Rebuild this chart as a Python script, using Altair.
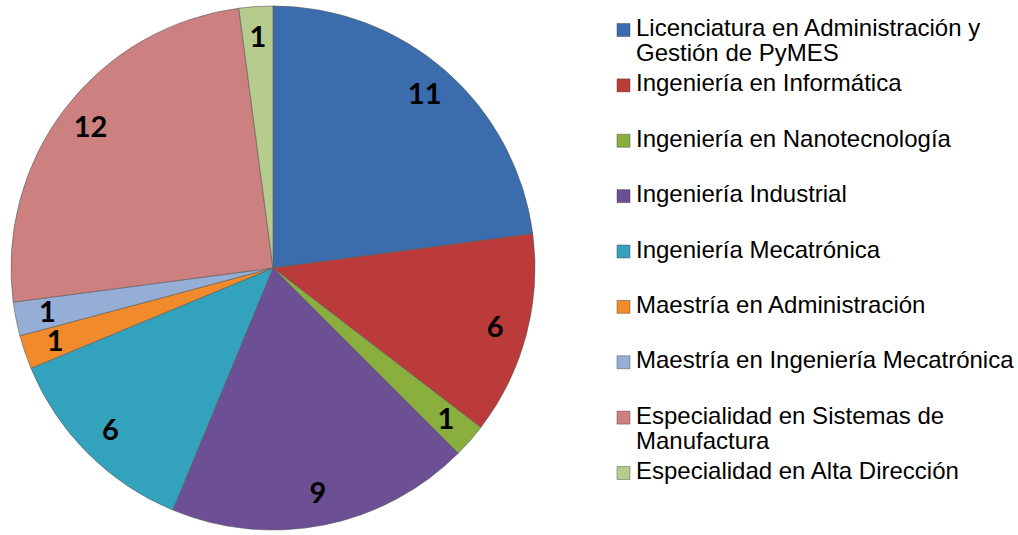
import altair as alt
import pandas as pd

categories = [
    "Licenciatura en Administración y Gestión de PyMES",
    "Ingeniería en Informática",
    "Ingeniería en Nanotecnología",
    "Ingeniería Industrial",
    "Ingeniería Mecatrónica",
    "Maestría en Administración",
    "Maestría en Ingeniería Mecatrónica",
    "Especialidad en Sistemas de Manufactura",
    "Especialidad en Alta Dirección",
]
legend_labels = [
    "Licenciatura en Administración y\nGestión de PyMES",
    "Ingeniería en Informática",
    "Ingeniería en Nanotecnología",
    "Ingeniería Industrial",
    "Ingeniería Mecatrónica",
    "Maestría en Administración",
    "Maestría en Ingeniería Mecatrónica",
    "Especialidad en Sistemas de\nManufactura",
    "Especialidad en Alta Dirección",
]
values = [11, 6, 1, 9, 6, 1, 1, 12, 1]
colors = ["#3b6cad", "#bb3b3a", "#8aaf3f", "#6c4f94", "#33a2bd",
          "#f08a2a", "#95aed6", "#cc8080", "#b6cc8c"]

df = pd.DataFrame({"categoria": categories, "valor": values,
                   "etiqueta": legend_labels,
                   "orden": list(range(len(categories)))})

color = alt.Color("categoria:N",
                  scale=alt.Scale(domain=categories, range=colors),
                  legend=None)

base = alt.Chart(df).encode(
    theta=alt.Theta("valor:Q", stack=True),
    order=alt.Order("orden:Q"),
)

pie = base.mark_arc(outerRadius=262, stroke="#5a5a5a", strokeWidth=0.6).encode(color=color)

labels = base.mark_text(
    radius=230, font="Lato", fontWeight="bold", fontSize=29, color="#000000"
).encode(text="valor:Q")

ypos = alt.Y("orden:O", scale=alt.Scale(type="point", range=[28, 471], padding=0), axis=None)

leg_sym = alt.Chart(df).mark_square(size=169, opacity=1, stroke="#333333",
                                    strokeWidth=0.4).encode(
    x=alt.value(623.5), y=ypos, color=color)

leg_txt = alt.Chart(df).mark_text(
    align="left", baseline="top", dy=-13, lineBreak="\n",
    font="Liberation Sans", fontSize=24, lineHeight=25, color="#000000",
).encode(x=alt.value(636), y=ypos, text="etiqueta:N")

chart = alt.layer(pie, labels, leg_sym, leg_txt).properties(
    width=546, height=532,
    padding={"top": 2, "left": 0, "right": 472, "bottom": 0},
    autosize=alt.AutoSizeParams(type="none"),
).configure_view(stroke=None)

chart.save("out.html", embed_options={"renderer": "svg", "actions": False})
